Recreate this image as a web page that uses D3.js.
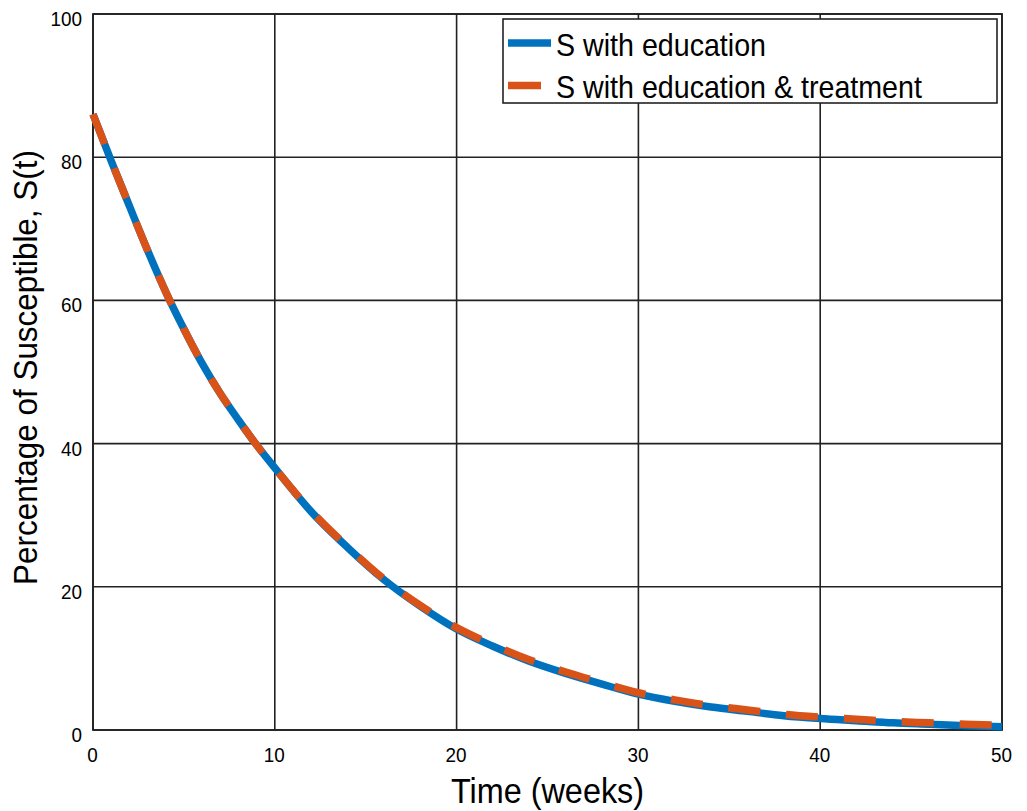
<!DOCTYPE html>
<html><head><meta charset="utf-8">
<script src="https://cdn.jsdelivr.net/npm/d3@7"></script>
<style>body{margin:0;background:#fff}svg{display:block}text{font-family:"Liberation Sans",Arial,Helvetica,sans-serif}</style>
</head><body><svg id="c" width="1027" height="811"></svg>
<script>
const weeks = [0,1,2,3,4,5,6,7,8,9,10,12,14,16,18,20,22,24,26,28,30,32,34,36,38,40,42,44,46,48,50];
const sEducation = [86,79.5,73.2,67,61.2,56,51.2,47,43.3,39.8,36.6,30.5,25.5,21,17.3,14.1,11.7,9.6,7.9,6.4,5.0,4.0,3.2,2.6,2.0,1.6,1.3,1.0,0.8,0.6,0.45];
const sEduTreat = [86,79.5,73.2,67,61.2,56,51.2,47,43.3,39.8,36.6,30.6,25.6,21.1,17.4,14.3,11.9,9.8,8.1,6.6,5.2,4.2,3.4,2.8,2.2,1.8,1.5,1.2,1.0,0.8,0.65];
const xTicks = [0,10,20,30,40,50];
const yTicks = [0,20,40,60,80,100];
const seriesNames = ["S with education","S with education & treatment"];

const svg = d3.select("#c");
const L=93,R=1002,T=14,B=730;
const SX=0.9; // horizontal squeeze of glyphs in the reference
const x = d3.scaleLinear().domain([0,50]).range([L,R]);
const y = d3.scaleLinear().domain([0,100]).range([B,T]);
const ink="#222";

// grid
svg.append("g").selectAll("line").data(xTicks).join("line")
  .attr("x1",d=>x(d)).attr("x2",d=>x(d)).attr("y1",T).attr("y2",B)
  .attr("stroke",ink).attr("stroke-width",1.6);
svg.append("g").selectAll("line").data(yTicks).join("line")
  .attr("y1",d=>y(d)).attr("y2",d=>y(d)).attr("x1",L).attr("x2",R)
  .attr("stroke",ink).attr("stroke-width",1.6);

// axes
const xa = svg.append("g").attr("transform",`translate(0,${B})`)
  .call(d3.axisBottom(x).tickValues(xTicks).tickSize(0));
const ya = svg.append("g").attr("transform",`translate(${L},0)`)
  .call(d3.axisLeft(y).tickValues(yTicks).tickSize(0));
[xa,ya].forEach(a=>{a.select(".domain").remove();
  a.selectAll("text").attr("font-size",21).attr("fill","#000").style("font-family",'"Liberation Sans",Arial,sans-serif').attr("dy",null);});
xa.selectAll("text").attr("y",0).attr("transform",`translate(-1,32) scale(${SX},1)`);
ya.selectAll("text").attr("x",0).attr("transform",`translate(-11,11.5) scale(${SX},1)`);

// box
svg.append("rect").attr("x",L).attr("y",T).attr("width",R-L).attr("height",B-T)
  .attr("fill","none").attr("stroke",ink).attr("stroke-width",1.8);

const line = d3.line().x(d=>x(d[0])).y(d=>y(d[1])).curve(d3.curveMonotoneX);
svg.append("path").datum(weeks.map((w,i)=>[w,sEducation[i]]))
  .attr("d",line).attr("fill","none").attr("stroke","#0072BD").attr("stroke-width",7.5);
svg.append("path").datum(weeks.map((w,i)=>[w,sEduTreat[i]]))
  .attr("d",line).attr("fill","none").attr("stroke","#D95319").attr("stroke-width",7.5)
  .attr("stroke-dasharray","32,26");

// legend
const lg = svg.append("g");
lg.append("rect").attr("x",503).attr("y",19).attr("width",494).attr("height",84)
  .attr("fill","#fff").attr("stroke",ink).attr("stroke-width",1.6);
const colors=["#0072BD","#D95319"];
seriesNames.forEach((n,i)=>{
  const yy = 43 + i*42.5;
  lg.append("line").attr("x1",508).attr("x2",i?541:551).attr("y1",yy).attr("y2",yy)
    .attr("stroke",colors[i]).attr("stroke-width",7.5);
  lg.append("text").attr("transform",`translate(556,${yy+12.5}) scale(${SX},1)`)
    .attr("font-size",31.8).attr("fill","#000").text(n);
});

// axis labels
svg.append("text").attr("transform",`translate(${(L+R)/2},803) scale(${SX},1)`).attr("text-anchor","middle")
  .attr("font-size",36).attr("fill","#000").text("Time (weeks)");
svg.append("text").attr("transform",`translate(37,${(150+585)/2}) rotate(-90) scale(0.967,1)`).attr("text-anchor","middle")
  .attr("font-size",32.5).attr("fill","#000").text("Percentage of Susceptible, S(t)");
</script></body></html>
